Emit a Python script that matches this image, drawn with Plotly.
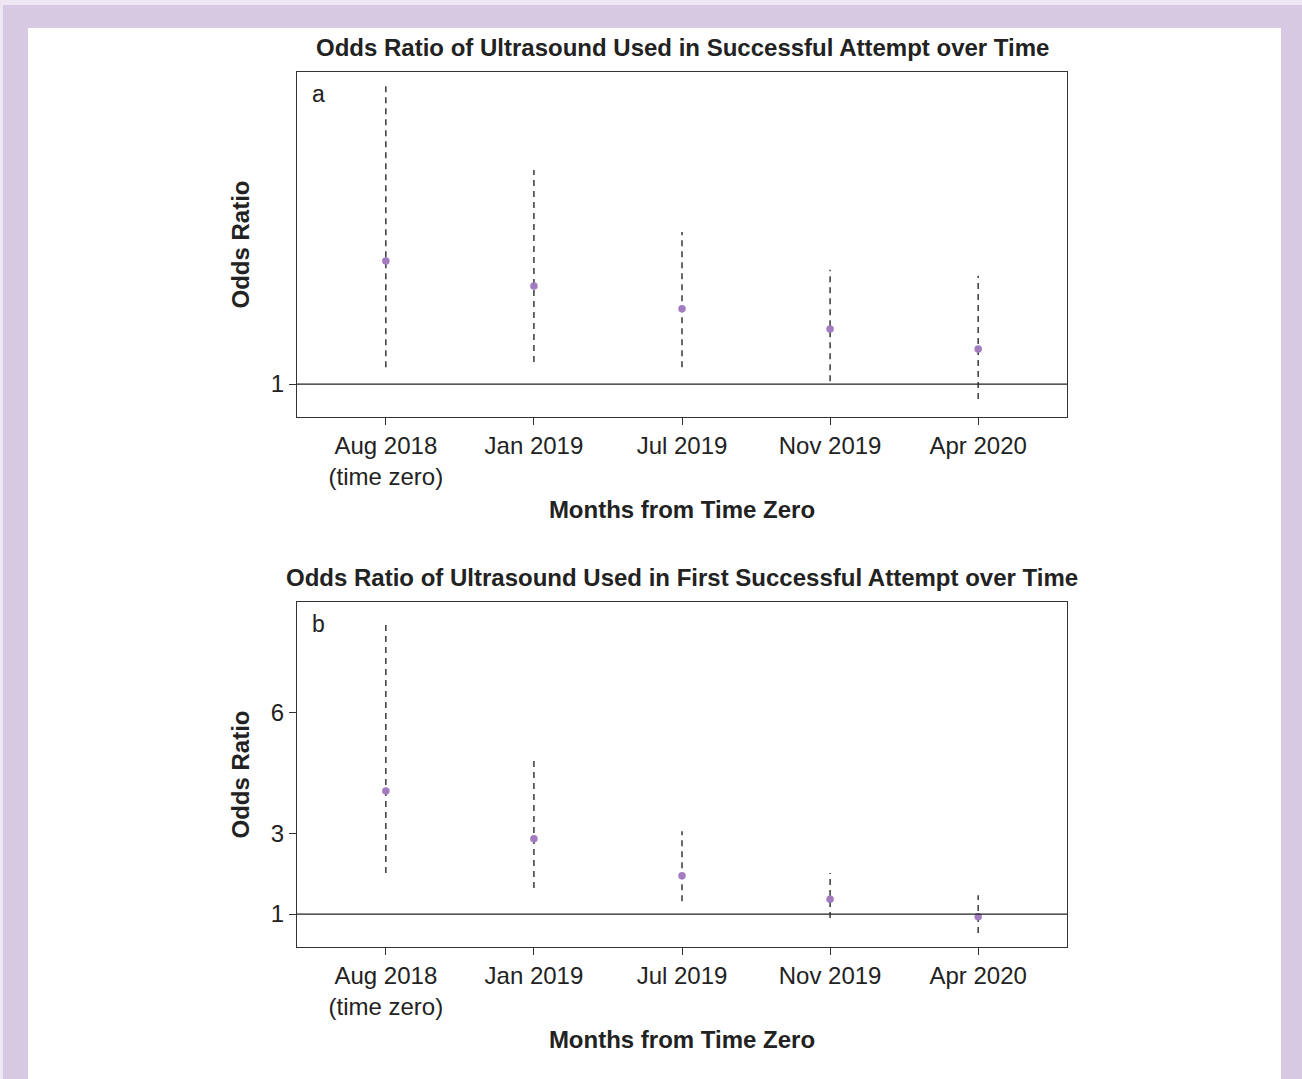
import plotly.graph_objects as go

# ---------------- data ----------------
categories = ["Aug 2018<br>(time zero)", "Jan 2019", "Jul 2019", "Nov 2019", "Apr 2020"]
y_tickvals_a = [1]
y_tickvals_b = [1, 3, 6]

or_a = [4.06, 3.44, 2.87, 2.37, 1.87]
lo_a = [1.42, 1.55, 1.42, 1.07, 0.63]
hi_a = [8.44, 6.32, 4.78, 3.84, 3.69]

or_b = [4.06, 2.87, 1.95, 1.37, 0.93]
lo_b = [2.02, 1.65, 1.32, 0.90, 0.53]
hi_b = [8.21, 4.83, 3.06, 2.02, 1.47]

titles = ["Odds Ratio of Ultrasound Used in Successful Attempt over Time",
          "Odds Ratio of Ultrasound Used in First Successful Attempt over Time"]
panel_labels = ["a", "b"]

# ---------------- layout constants ----------------
W, H = 1302, 1079
FONT = "Liberation Sans, Arial, sans-serif"
AXC = "#333333"
TXT = "#222222"
PT_COLOR = "#A37BC0"
LAV = "#D8C9E3"

x_pos = list(range(len(categories)))

fig = go.Figure()

def add_panel(k, ors, los, his):
    xa = "x" if k == 1 else "x2"
    ya = "y" if k == 1 else "y2"
    xs, ys = [], []
    for x, lo, hi in zip(x_pos, los, his):
        xs += [x, x, None]
        ys += [lo, hi, None]
    fig.add_trace(go.Scatter(x=xs, y=ys, mode="lines", xaxis=xa, yaxis=ya,
                             line=dict(color="#1a1a1a", width=1.3, dash="6px,5px"),
                             showlegend=False, hoverinfo="skip"))
    fig.add_trace(go.Scatter(x=x_pos, y=ors, mode="markers", xaxis=xa, yaxis=ya,
                             marker=dict(color=PT_COLOR, size=7.5),
                             showlegend=False))

add_panel(1, or_a, lo_a, hi_a)
add_panel(2, or_b, lo_b, hi_b)

xdom = [297 / W, 1067 / W]
ydom_a = [1 - 417 / H, 1 - 72 / H]
ydom_b = [1 - 947 / H, 1 - 602 / H]

xaxis_common = dict(domain=xdom, range=[-0.6, 4.6], tickvals=x_pos, ticktext=categories,
                    ticks="outside", ticklen=7, tickwidth=1, tickcolor=AXC,
                    showline=True, linecolor=AXC, linewidth=1.4, mirror=True,
                    showgrid=False, zeroline=False,
                    tickfont=dict(family=FONT, size=24, color=TXT),
                    title=dict(text="<b>Months from Time Zero</b>",
                               font=dict(family=FONT, size=24, color=TXT), standoff=11))
yaxis_common = dict(range=[0.18, 8.76], ticks="outside", ticklen=7, tickwidth=1, tickcolor=AXC,
                    showline=True, linecolor=AXC, linewidth=1.4, mirror=True,
                    showgrid=False, zeroline=False,
                    tickfont=dict(family=FONT, size=24, color=TXT),
                    title=dict(text="<b>Odds Ratio</b>",
                               font=dict(family=FONT, size=24, color=TXT), standoff=14))

fig.update_layout(
    width=W, height=H,
    margin=dict(l=0, r=0, t=0, b=0),
    paper_bgcolor="#EEE6F2",
    plot_bgcolor="white",
    showlegend=False,
    xaxis=dict(anchor="y", **xaxis_common),
    yaxis=dict(anchor="x", domain=ydom_a, tickvals=y_tickvals_a,
               ticktext=[str(v) for v in y_tickvals_a], **yaxis_common),
    xaxis2=dict(anchor="y2", **xaxis_common),
    yaxis2=dict(anchor="x2", domain=ydom_b, tickvals=y_tickvals_b,
                ticktext=[str(v) for v in y_tickvals_b], **yaxis_common),
)

shapes = [
    dict(type="rect", xref="paper", yref="paper", x0=3 / W, x1=1, y0=0, y1=1 - 5 / H,
         fillcolor=LAV, line=dict(width=0), layer="below"),
    dict(type="rect", xref="paper", yref="paper", x0=28 / W, x1=1281 / W, y0=0, y1=1 - 28 / H,
         fillcolor="white", line=dict(width=0), layer="below"),
    dict(type="line", xref="x domain", yref="y", x0=0, x1=1, y0=1, y1=1,
         line=dict(color=TXT, width=1.3)),
    dict(type="line", xref="x2 domain", yref="y2", x0=0, x1=1, y0=1, y1=1,
         line=dict(color=TXT, width=1.3)),
]
fig.update_layout(shapes=shapes)

annotations = []
for title, yd in zip(titles, [ydom_a, ydom_b]):
    annotations.append(dict(text="<b>" + title + "</b>", xref="paper", yref="paper",
                            x=(xdom[0] + xdom[1]) / 2, y=yd[1] + 9 / H, xanchor="center",
                            yanchor="bottom", showarrow=False,
                            font=dict(family=FONT, size=24, color=TXT)))
for lab, xa in zip(panel_labels, ["x domain", "x2 domain"]):
    ya = "y domain" if lab == "a" else "y2 domain"
    annotations.append(dict(text=lab, xref=xa, yref=ya, x=0.017, y=0.98,
                            xanchor="left", yanchor="top", showarrow=False,
                            font=dict(family=FONT, size=23, color=TXT)))
fig.update_layout(annotations=annotations)

fig.write_html("out.html", config={"displayModeBar": False},
               post_script="document.body.style.margin='0';document.body.style.padding='0';")
